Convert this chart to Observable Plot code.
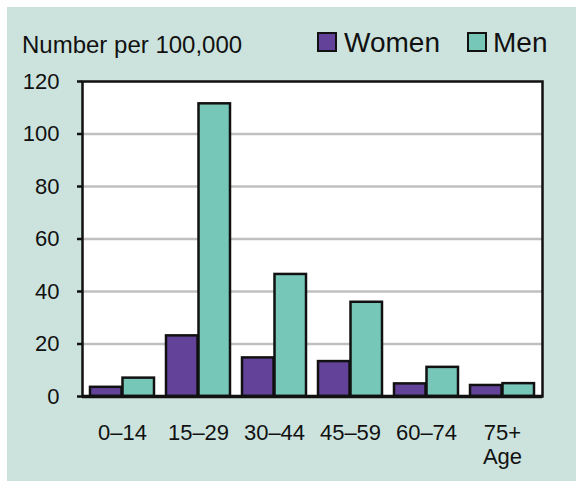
<!DOCTYPE html>
<html>
<head>
<meta charset="utf-8">
<script src="https://cdn.jsdelivr.net/npm/d3@7"></script>
<script src="https://cdn.jsdelivr.net/npm/@observablehq/plot@0.6"></script>
<style>
  html, body { margin: 0; padding: 0; overflow: hidden; background: #ffffff; font-family: "Liberation Sans", Arial, sans-serif; }
  #wrap { position: fixed; left: 0; top: 0; width: 576px; height: 481px; overflow: hidden; }
  #panel { position: absolute; left: 7px; top: 7px; width: 569px; height: 474px; background: #cce3dd; }
  #chart { position: absolute; left: 0; top: 0; }
  .txt { position: absolute; line-height: 1; color: #111; white-space: nowrap; }
  #title { left: 22px; top: 33px; font-size: 24px; }
  .sw { position: absolute; width: 20px; height: 20px; box-sizing: border-box; border: 2.5px solid #111; }
  .lg { font-size: 28px; top: 29px; }
</style>
</head>
<body>
<div id="wrap">
  <div id="panel"></div>
  <div id="chart"></div>
  <div id="title" class="txt"></div>
  <div id="legend"></div>
</div>
<script>
const ages = ["0–14", "15–29", "30–44", "45–59", "60–74", "75+"];
const women = [3.5, 23.1, 14.7, 13.3, 4.8, 4.2];
const men = [7.0, 111.5, 46.5, 35.9, 11.1, 4.9];
const seriesNames = ["Women", "Men"];
const seriesColors = ["#634399", "#77c7b9"];
const yTicks = [0, 20, 40, 60, 80, 100, 120];
const titleText = "Number per 100,000";
const xLabel = "Age";

document.getElementById("title").textContent = titleText;

const legend = document.getElementById("legend");
const legendPos = [{sw: 317, tx: 344}, {sw: 467, tx: 493}];
seriesNames.forEach((name, i) => {
  const s = document.createElement("div");
  s.className = "sw";
  s.style.left = legendPos[i].sw + "px";
  s.style.top = "32px";
  s.style.background = seriesColors[i];
  legend.appendChild(s);
  const t = document.createElement("div");
  t.className = "txt lg";
  t.style.left = legendPos[i].tx + "px";
  t.textContent = name;
  legend.appendChild(t);
});

const womenData = ages.map((a, i) => ({age: a, value: women[i]}));
const menData = ages.map((a, i) => ({age: a, value: men[i]}));

const chart = Plot.plot({
  width: 576,
  height: 481,
  marginTop: 81,
  marginLeft: 82,
  marginRight: 34,
  marginBottom: 85,
  style: {background: "transparent", fontFamily: "'Liberation Sans', Arial, sans-serif", fontSize: "22px", color: "#111"},
  x: {domain: ages, paddingInner: 0.152, paddingOuter: 0.076, axis: null},
  y: {domain: [0, 120], axis: null},
  marks: [
    Plot.frame({fill: "white", stroke: null}),
    Plot.ruleY(yTicks.filter(t => t > 0 && t < 120), {stroke: "#c0c0c0", strokeWidth: 2.5}),
    Plot.barY(womenData, {x: "age", y: "value", fill: seriesColors[0], stroke: "#111", strokeWidth: 2.5, insetRight: 32.5}),
    Plot.barY(menData, {x: "age", y: "value", fill: seriesColors[1], stroke: "#111", strokeWidth: 2.5, insetLeft: 32.5}),
    Plot.frame({stroke: "#111", strokeWidth: 2.5}),
    Plot.ruleY([0], {stroke: "#111", strokeWidth: 3.5}),
    Plot.axisY(yTicks, {tickSize: 5, tickPadding: 18, strokeWidth: 2.5, stroke: "#111", fontSize: 22, label: null}),
    Plot.axisX({tickSize: 0, tickPadding: 26, fontSize: 22, label: null, lineHeight: 1.1,
      tickFormat: d => d === ages[ages.length - 1] ? d + "\n" + xLabel : d})
  ]
});
document.getElementById("chart").appendChild(chart);
</script>
</body>
</html>
